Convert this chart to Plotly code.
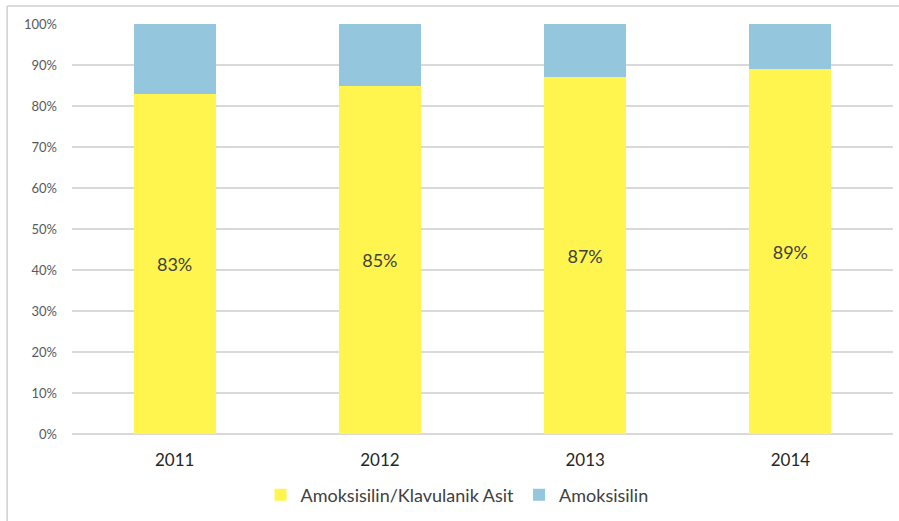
import plotly.graph_objects as go

years = ["2011", "2012", "2013", "2014"]
amoks_klav = [83, 85, 87, 89]
amoks = [17, 15, 13, 11]
label_text = [f"{v}%" for v in amoks_klav]

FONT = "Lato, 'Open Sans', sans-serif"

fig = go.Figure()
fig.add_trace(go.Bar(
    x=years, y=amoks_klav, name="Amoksisilin/Klavulanik Asit",
    marker=dict(color="#FFF54E", line=dict(width=0)),
    text=label_text, textposition="inside", insidetextanchor="middle",
    textfont=dict(size=18, color="#404040", family=FONT),
))
fig.add_trace(go.Bar(
    x=years, y=amoks, name="Amoksisilin",
    marker=dict(color="#94C7DD", line=dict(width=0)),
    hoverinfo="skip",
))

fig.update_layout(
    barmode="stack", bargap=0.6,
    width=899, height=521,
    margin=dict(l=72, r=6, t=24, b=87),
    paper_bgcolor="white", plot_bgcolor="white",
    font=dict(family=FONT, color="#404040"),
    uniformtext=dict(mode=False),
    legend=dict(
        orientation="h", x=0.469, xanchor="center", y=-0.149, yanchor="middle",
        font=dict(size=18, color="#404040", family=FONT),
        itemwidth=30, traceorder="normal",
    ),
    showlegend=True,
)
fig.update_yaxes(
    range=[0, 100], dtick=10, ticksuffix="%",
    showgrid=True, gridcolor="#D9D9D9", gridwidth=1.5,
    zeroline=True, zerolinecolor="#D9D9D9", zerolinewidth=1.5,
    tickfont=dict(size=13, color="#595959", family=FONT),
    ticks="", ticklabelstandoff=14,
)
fig.update_xaxes(
    showgrid=False, showline=False, ticks="",
    tickfont=dict(size=17, color="#262626", family=FONT),
    ticklabelstandoff=14,
)

# outer frame: top and left edges
fig.add_shape(type="line", xref="paper", yref="paper", x0=-0.079, x1=1.01, y0=1.044, y1=1.044,
              line=dict(color="#D0D0D0", width=1.5))
fig.add_shape(type="line", xref="paper", yref="paper", x0=-0.079, x1=-0.079, y0=1.044, y1=-0.22,
              line=dict(color="#D0D0D0", width=1.5))

fig.write_html("out.html")
